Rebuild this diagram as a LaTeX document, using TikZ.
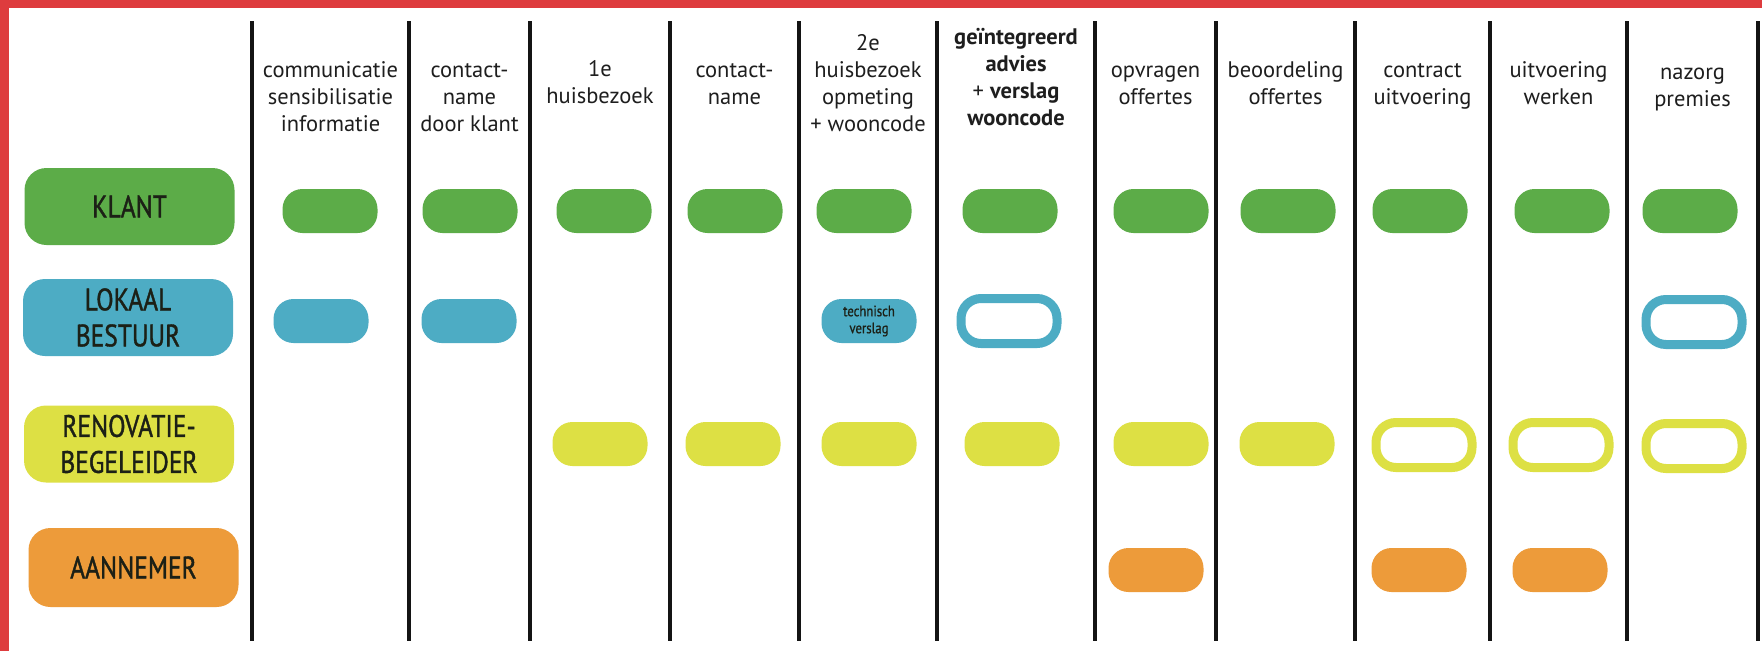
\documentclass[tikz,border=0pt]{standalone}
\usepackage{fontspec}
\setmainfont{PT Sans}
\newfontfamily\labfont[FakeStretch=0.82,FakeBold=1.2]{PT Sans}
\newfontfamily\smallfont[FakeStretch=0.85,FakeBold=0.8]{PT Sans}
\definecolor{redb}{RGB}{222,60,62}
\definecolor{cgreen}{RGB}{92,172,72}
\definecolor{cblue}{RGB}{77,172,196}
\definecolor{cyellow}{RGB}{221,224,68}
\definecolor{corange}{RGB}{237,155,58}
\definecolor{linec}{RGB}{20,20,20}
\definecolor{txt}{RGB}{30,30,30}
\definecolor{labtxt}{RGB}{28,32,22}
\tikzset{
  sepline/.style={line width=4pt, draw=linec},
  hdr/.style={anchor=north, inner sep=0pt, align=center, text=txt, font=\fontsize{22.5}{27}\selectfont},
  lab/.style={rounded corners=22pt, minimum width=210pt, minimum height=77pt, inner sep=0pt, align=center, text=labtxt, font=\labfont\fontsize{31}{36}\selectfont},
  pill/.style={rounded corners=20pt, minimum width=95pt, minimum height=44pt, inner sep=0pt},
  ring/.style={draw=#1, fill=white, line width=9pt, rounded corners=20pt, minimum width=96pt, minimum height=45pt, inner sep=0pt},
}
\begin{document}
\begin{tikzpicture}[x=1pt,y=-1pt]
\useasboundingbox (0,0) rectangle (1762,651);
\fill[white] (0,0) rectangle (1762,651);
\fill[redb] (0,0) rectangle (1762,8);
\fill[redb] (0,0) rectangle (9,651);
% separator lines
\foreach \x in {252,409,530,670,799,937,1095,1216,1355,1490,1627,1758}
  \draw[sepline] (\x,21) -- (\x,641);
% headers
\node[hdr] (h1) at (330.5,58) {\strut communicatie\\sensibilisatie\\informatie};
\node[hdr] (h2) at (469.5,58) {\strut contact-\\name\\door klant};
\node[hdr] (h3) at (600,57) {\strut 1e\\huisbezoek};
\node[hdr] (h4) at (734.5,58) {\strut contact-\\name};
\node[hdr] (h5) at (868,31) {\strut 2e\\huisbezoek\\opmeting\\+ wooncode};
\node[hdr] (h6) at (1016,25) {\strut\bfseries geïntegreerd\\\bfseries advies\\+ \textbf{verslag}\\\bfseries wooncode};
\node[hdr] (h7) at (1155.5,58) {\strut opvragen\\offertes};
\node[hdr] (h8) at (1285.5,58) {\strut beoordeling\\offertes};
\node[hdr] (h9) at (1422.5,58) {\strut contract\\uitvoering};
\node[hdr] (h10) at (1558.5,58) {\strut uitvoering\\werken};
\node[hdr] (h11) at (1692.5,60) {\strut nazorg\\premies};
% row labels
\node[lab, fill=cgreen] (klant) at (129.5,206.5) {KLANT};
\node[lab, fill=cblue] (lokaal) at (128,317.5) {LOKAAL\\BESTUUR};
\node[lab, fill=cyellow] (reno) at (129,444) {RENOVATIE-\\BEGELEIDER};
\node[lab, fill=corange, minimum height=79pt] (aann) at (133.5,567.5) {AANNEMER};
% klant row
\foreach \x [count=\i] in {330,470,604,735,864,1010,1161,1288,1420,1562,1690}
  \node[pill, fill=cgreen] (k\i) at (\x,211) {};
% lokaal bestuur row
\node[pill, fill=cblue] (l1) at (321,321) {};
\node[pill, fill=cblue] (l2) at (469,321) {};
\node[pill, fill=cblue, align=center, text=labtxt, font=\smallfont\fontsize{15}{17}\selectfont] (l5) at (869,321) {technisch\\verslag};
\node[ring=cblue] (l6) at (1009,321) {};
\node[ring=cblue] (l11) at (1694,322) {};
% renovatiebegeleider row
\foreach \x [count=\i] in {600,733,869,1012,1161,1287}
  \node[pill, fill=cyellow] (r\i) at (\x,444) {};
\node[ring=cyellow] (r9) at (1424,445) {};
\node[ring=cyellow] (r10) at (1561,445) {};
\node[ring=cyellow] (r11) at (1694,446) {};
% aannemer row
\node[pill, fill=corange] (a7) at (1156,570) {};
\node[pill, fill=corange] (a9) at (1419,570) {};
\node[pill, fill=corange] (a10) at (1560,570) {};
\end{tikzpicture}
\end{document}
